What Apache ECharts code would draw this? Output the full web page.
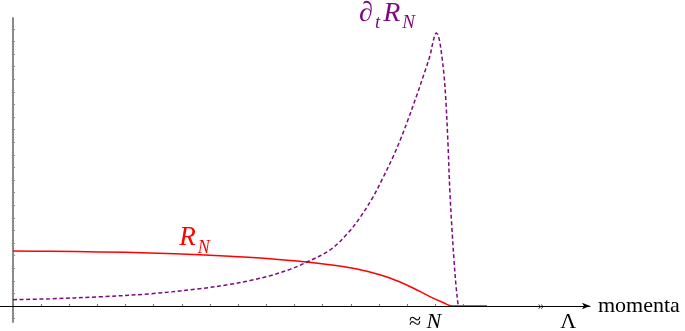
<!DOCTYPE html>
<html>
<head>
<meta charset="utf-8">
<script src="https://cdn.jsdelivr.net/npm/echarts@6/dist/echarts.min.js"></script>
<style>html,body{margin:0;padding:0;background:#fff}#c{width:685px;height:331px}</style>
</head>
<body>
<div id="c"></div>
<script>
// R_N (red, solid)
const rX = [0, 1.31, 3.09, 4.87, 6.64, 7.71, 9.13, 10.44, 11.26, 11.97, 12.68, 13.39, 14.10, 14.81, 15.28, 15.60, 16.84];
const rY = [4.37, 4.34, 4.29, 4.21, 4.06, 3.94, 3.75, 3.49, 3.27, 3.03, 2.70, 2.22, 1.55, 0.75, 0.28, 0, 0];
// ∂_t R_N (purple, dashed)
const pX = [0, 1.31, 3.09, 4.87, 6.64, 7.71, 8.42, 9.13, 9.84, 10.37, 11.26, 11.90, 12.33, 12.79, 13.14, 13.50, 13.75, 14.03, 14.35, 14.56, 14.81, 14.92, 14.99, 15.03, 15.10, 15.17, 15.24, 15.31, 15.38, 15.45, 15.52, 15.60, 15.67, 15.74, 15.81, 15.83];
const pY = [0.50, 0.57, 0.73, 0.97, 1.37, 1.72, 2.02, 2.40, 2.91, 3.41, 4.44, 5.79, 7.03, 8.65, 10.16, 11.83, 13.13, 14.76, 16.75, 18.13, 19.84, 20.95, 21.51, 21.67, 21.51, 20.87, 19.76, 18.41, 16.27, 13.10, 9.13, 5.95, 3.57, 1.59, 0.16, 0];
// axis ticks and labels
const xTicks = [0, 1, 2, 3, 4, 5, 6, 7, 8, 9, 10, 11, 12, 13, 14, 15, 16];
const yTicks = [-1, 0, 1, 2, 3, 4, 5, 6, 7, 8, 9, 10, 11, 12, 13, 14, 15, 16, 17, 18, 19, 20, 21, 22];
const xLabelValues = [14.64, 19.73];
const xLabelTexts = ['{a|≈ }{i|N}', '{a|Λ}'];
const breakAt = [18.76];
const redLabelIndex = 4;

const serif = 'Liberation Serif';
const pairs = (xs, ys) => xs.map((x, i) => [x, ys[i]]);
let peak = 0;
pY.forEach((v, i) => { if (v > pY[peak]) peak = i; });
const purple = '#7d0a7d';

const subRich = (c, big, small, drop) => ({
  d: {fontFamily: serif, fontSize: big, color: c, lineHeight: big, verticalAlign: 'top', padding: [0, 1, 0, 0]},
  t: {fontFamily: serif, fontStyle: 'italic', fontSize: small, color: c, lineHeight: small, verticalAlign: 'top', padding: [drop, 2, 0, 1]},
  r: {fontFamily: serif, fontStyle: 'italic', fontSize: big, color: c, lineHeight: big, verticalAlign: 'top', padding: [0, 1, 0, 1]},
  s: {fontFamily: serif, fontStyle: 'italic', fontSize: small, color: c, lineHeight: small, verticalAlign: 'top', padding: [drop, 0, 0, 1]}
});

const chart = echarts.init(document.getElementById('c'), null, {renderer: 'canvas'});
chart.setOption({
  animation: false,
  backgroundColor: '#fff',
  grid: {left: 0, right: 95, top: 18, bottom: 9, containLabel: false, outerBoundsMode: 'none'},
  xAxis: {
    type: 'value', min: -0.462, max: 20.5, z: 10,
    splitLine: {show: false},
    axisLine: {onZero: true, lineStyle: {color: '#000', width: 1}, symbol: ['none', 'arrow'], symbolSize: [5, 8]},
    axisTick: {show: true, inside: true, length: 2, customValues: xTicks, lineStyle: {color: '#777'}},
    axisLabel: {
      customValues: xLabelValues, margin: -11, lineHeight: 22,
      formatter: v => xLabelTexts[xLabelValues.indexOf(v)] || '',
      rich: {
        a: {fontFamily: serif, fontSize: 22, color: '#000', lineHeight: 22},
        i: {fontFamily: serif, fontStyle: 'italic', fontSize: 22, color: '#000', lineHeight: 22}
      }
    },
    name: 'momenta', nameLocation: 'end', nameGap: 8,
    nameTextStyle: {fontFamily: serif, fontSize: 22, color: '#000'}
  },
  yAxis: {
    type: 'value', min: -1.27, max: 22.86,
    splitLine: {show: false},
    axisLine: {onZero: true, lineStyle: {color: '#8a8a8a', width: 2}},
    axisTick: {show: true, inside: true, length: 2, customValues: yTicks, lineStyle: {color: '#8a8a8a'}},
    axisLabel: {show: false}
  },
  series: [
    {
      name: 'R_N', type: 'line', data: pairs(rX, rY), showSymbol: false, symbol: 'none',
      smooth: 0.35, lineStyle: {color: '#ff0000', width: 1.5}, z: 3
    },
    {
      name: '∂tR_N', type: 'line', data: pairs(pX, pY), showSymbol: false, symbol: 'none',
      smooth: 0.35, lineStyle: {color: purple, width: 1.5, type: [4, 2.6]}, z: 4
    },
    {
      name: 'labels', type: 'scatter', symbolSize: 0, silent: true, z: 6, clip: false,
      itemStyle: {opacity: 1},
      data: [
        {value: [rX[redLabelIndex], rY[redLabelIndex]],
         label: {show: true, position: 'top', distance: 3, offset: [-6, 0], formatter: '{r|R}{s|N}', rich: subRich('#ff0000', 27, 18, 14)}},
        {value: [pX[peak], pY[peak]],
         label: {show: true, position: 'top', distance: 5, offset: [-49, 0], formatter: '{d|∂}{t|t}{r|R}{s|N}', rich: subRich(purple, 28, 19, 14)}}
      ]
    },
    {
      name: 'break', type: 'scatter', data: breakAt.map(x => [x, 0]), symbolSize: 0,
      itemStyle: {opacity: 1},
      label: {show: true, position: 'inside', formatter: '»', fontSize: 13, color: '#222', fontFamily: serif},
      z: 5, silent: true
    }
  ]
});
</script>
</body>
</html>
